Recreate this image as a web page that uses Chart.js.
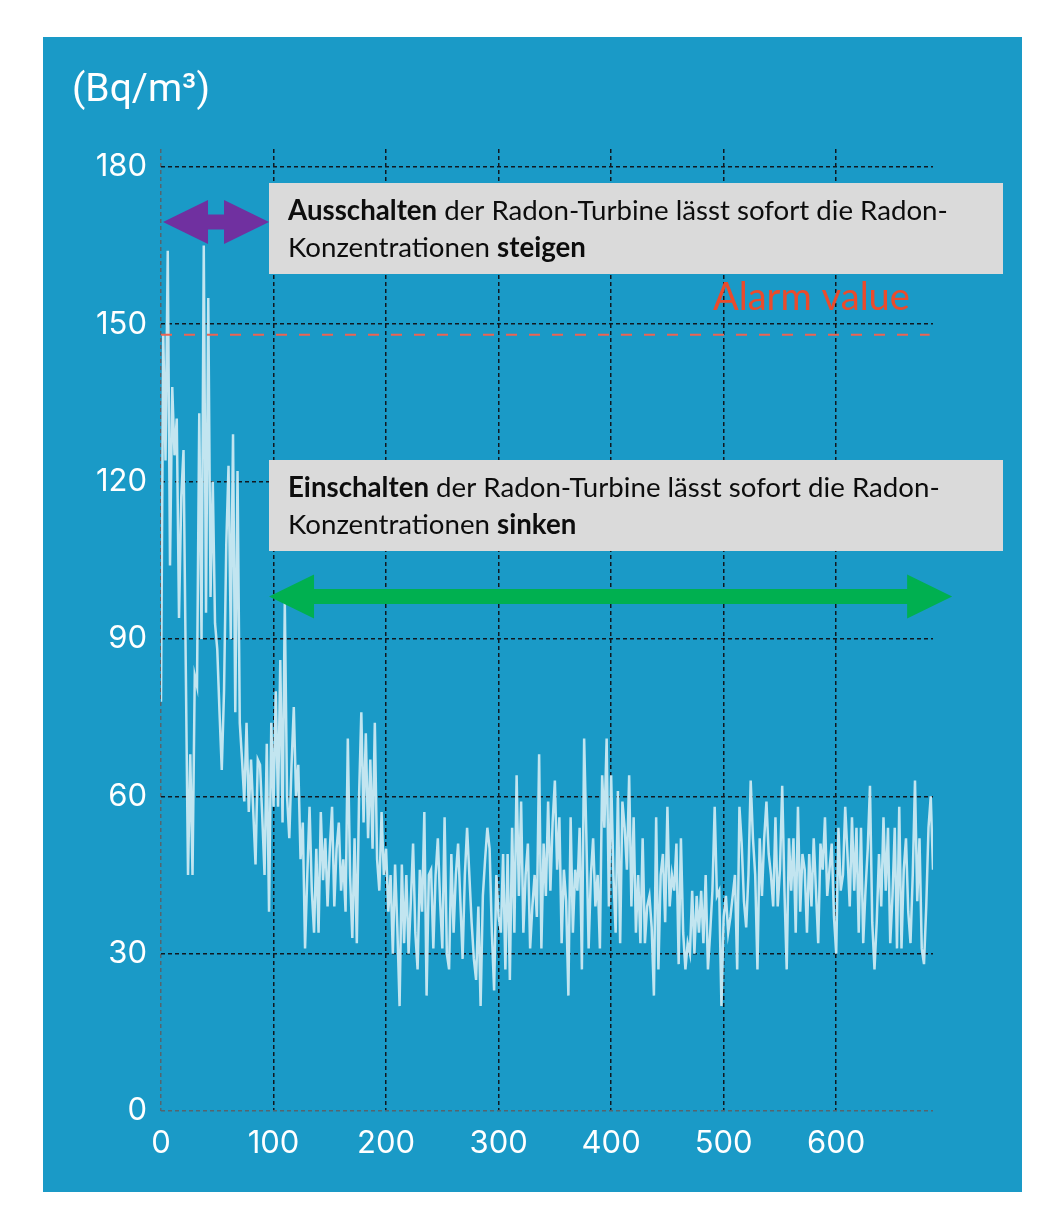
<!DOCTYPE html>
<html>
<head>
<meta charset="utf-8">
<script src="https://cdn.jsdelivr.net/npm/chart.js@4.4.1/dist/chart.umd.min.js"></script>
<style>
  html, body { margin: 0; padding: 0; background: #fff; }
  #panel { position: absolute; left: 43px; top: 37px; width: 979px; height: 1155px; background: #1a9ac7; }
  canvas { display: block; }
</style>
</head>
<body>
<div id="panel"><canvas id="chartRadon" width="979" height="1155"></canvas></div>
<script>
// radon readings, one every 2 time units starting at 0
const stepX = 2;
const radon = [
  78,148,124,164,104,138,125,132,94,117,
  126,85,45,68,45,83,81,133,90,165,
  95,155,98,120,93,88,76,65,80,108,
  123,90,129,76,122,74,67,59,74,57,
  67,57,47,67,66,56,45,70,38,74,
  58,
  80,58,86,55,97,60,52,66,77,60,
  66,48,55,31,45,58,42,34,50,34,
  57,44,52,39,50,58,39,50,55,42,
  48,38,71,45,33,52,32,60,76,55,
  72,52,67,50,74,48,42,57,45,50,
  38,45,30,47,35,20,47,32,45,30,
  40,51,34,27,46,38,57,22,45,46,
  31,45,52,40,31,56,30,27,49,34,
  45,51,40,29,45,54,45,36,29,25,
  39,20,41,48,54,50,34,23,45,37,
  34,49,27,49,25,54,34,64,41,59,
  34,45,51,31,39,45,37,68,31,51,
  41,59,42,55,63,46,56,32,46,40,
  22,56,34,46,42,54,27,71,52,31,
  45,52,39,45,31,64,54,71,39,64,
  45,34,61,32,59,54,46,64,39,56,
  34,45,32,52,32,39,41,35,22,56,
  27,45,49,36,58,39,45,42,51,28,
  52,34,27,32,30,42,30,41,34,42,
  32,45,27,34,42,58,41,42,20,37,
  41,34,37,41,45,27,58,51,40,35,
  45,63,52,45,27,52,41,52,59,49,
  45,39,56,39,46,62,42,27,52,42,
  52,34,58,38,49,46,34,49,39,52,
  42,32,51,46,56,41,46,51,37,30,
  54,42,45,58,49,39,56,42,54,34,
  54,32,42,50,62,36,27,36,49,39,
  56,42,54,32,41,54,31,58,31,46,
  52,38,32,45,63,40,52,31,28,39,
  54,60,46
];
const xTicks = [0, 100, 200, 300, 400, 500, 600];
const yTicks = [0, 30, 60, 90, 120, 150, 180];
const alarmValue = 148;
const unitLabel = '(Bq/m³)';
const alarmLabel = 'Alarm value';
const noteOff = [
  [['bold', 'Ausschalten'], ['normal', ' der Radon-Turbine lässt sofort die Radon-']],
  [['normal', 'Konzentrationen '], ['bold', 'steigen']]
];
const noteOn = [
  [['bold', 'Einschalten'], ['normal', ' der Radon-Turbine lässt sofort die Radon-']],
  [['normal', 'Konzentrationen '], ['bold', 'sinken']]
];
// arrow spans in data units: [xFrom, xTo, y]
const arrowOff = [1.8, 96, 169.5];
const arrowOn = [96, 703, 98.1];

const points = radon.map((v, i) => ({ x: i * stepX, y: v }));
const xMax = (radon.length - 1) * stepX;

function runsWidth(ctx, runs, size, family) {
  let w = 0;
  runs.forEach(([weight, text]) => {
    ctx.font = `${weight} ${size}px ${family}`;
    w += ctx.measureText(text).width;
  });
  return w;
}

function drawRuns(ctx, runs, x, y, size, family) {
  runs.forEach(([weight, text]) => {
    ctx.font = `${weight} ${size}px ${family}`;
    ctx.fillText(text, x, y);
    x += ctx.measureText(text).width;
  });
}

function drawDoubleArrow(ctx, x1, x2, cy, headLen, headHalf, shaftHalf) {
  ctx.beginPath();
  ctx.moveTo(x1, cy);
  ctx.lineTo(x1 + headLen, cy - headHalf);
  ctx.lineTo(x1 + headLen, cy - shaftHalf);
  ctx.lineTo(x2 - headLen, cy - shaftHalf);
  ctx.lineTo(x2 - headLen, cy - headHalf);
  ctx.lineTo(x2, cy);
  ctx.lineTo(x2 - headLen, cy + headHalf);
  ctx.lineTo(x2 - headLen, cy + shaftHalf);
  ctx.lineTo(x1 + headLen, cy + shaftHalf);
  ctx.lineTo(x1 + headLen, cy + headHalf);
  ctx.closePath();
  ctx.fill();
}

const overlay = {
  id: 'overlay',
  afterDraw(chart) {
    const ctx = chart.ctx;
    const sx = chart.scales.x, sy = chart.scales.y;
    ctx.save();
    ctx.textBaseline = 'alphabetic';
    ctx.textAlign = 'left';

    // unit label
    ctx.fillStyle = '#ffffff';
    ctx.font = '400 100px Roboto';
    let size = 100 * 138 / ctx.measureText(unitLabel).width;
    ctx.font = `400 ${size}px Roboto`;
    ctx.fillText(unitLabel, 29, 64);

    // alarm label
    ctx.fillStyle = '#ea4b2c';
    ctx.font = '400 100px Lato';
    size = 100 * 197 / ctx.measureText(alarmLabel).width;
    ctx.font = `400 ${size}px Lato`;
    ctx.fillText(alarmLabel, 670, 273);

    // note boxes
    const fam = 'Lato';
    const noteSize = 100 * 660 / runsWidth(ctx, noteOff[0], 100, fam);
    [[noteOff, 146], [noteOn, 423]].forEach(([lines, top]) => {
      ctx.fillStyle = '#dadada';
      ctx.fillRect(226, top, 734, 91);
      ctx.fillStyle = '#0d0d0d';
      drawRuns(ctx, lines[0], 245, top + 37, noteSize, fam);
      drawRuns(ctx, lines[1], 245, top + 74, noteSize, fam);
    });

    // arrows
    ctx.fillStyle = '#7030a0';
    drawDoubleArrow(ctx, sx.getPixelForValue(arrowOff[0]), sx.getPixelForValue(arrowOff[1]),
      sy.getPixelForValue(arrowOff[2]), 45, 22, 7.5);
    ctx.fillStyle = '#00b050';
    drawDoubleArrow(ctx, sx.getPixelForValue(arrowOn[0]), sx.getPixelForValue(arrowOn[1]),
      sy.getPixelForValue(arrowOn[2]), 45, 22, 7.5);
    ctx.restore();
  }
};

const gridColor = (c) => (c.tick && c.tick.value === 0) ? '#55646e' : '#101820';

new Chart(document.getElementById('chartRadon').getContext('2d'), {
  type: 'line',
  data: {
    datasets: [{
      label: 'Alarm',
      data: [{ x: 0, y: alarmValue }, { x: 683, y: alarmValue }],
      borderColor: '#ee6352',
      borderWidth: 2,
      borderDash: [11, 12],
      pointRadius: 0,
      order: 0
    }, {
      label: 'Radon',
      data: points,
      borderColor: '#c2e5f0',
      borderWidth: 2.5,
      pointRadius: 0,
      tension: 0,
      order: 1
    }]
  },
  options: {
    responsive: false,
    animation: false,
    layout: { padding: { top: 112, right: 89, left: 0, bottom: 0 } },
    plugins: { legend: { display: false }, tooltip: { enabled: false } },
    scales: {
      x: {
        type: 'linear',
        min: 0,
        max: xMax,
        afterBuildTicks: s => { s.ticks = xTicks.map(v => ({ value: v })); },
        afterFit: s => { s.height = 81; },
        grid: { color: gridColor, lineWidth: 1.5, drawTicks: false },
        border: { display: false, dash: [4, 3] },
        ticks: { color: '#ffffff', font: { family: 'Inter', size: 31 }, padding: 14, maxRotation: 0 }
      },
      y: {
        min: 0,
        max: 183.4,
        afterBuildTicks: s => { s.ticks = yTicks.map(v => ({ value: v })); },
        afterFit: s => { s.width = 118; },
        grid: { color: gridColor, lineWidth: 1.5, drawTicks: false },
        border: { display: false, dash: [4, 3] },
        ticks: { color: '#ffffff', font: { family: 'Inter', size: 31 }, padding: 14 }
      }
    }
  },
  plugins: [overlay]
});
</script>
</body>
</html>
